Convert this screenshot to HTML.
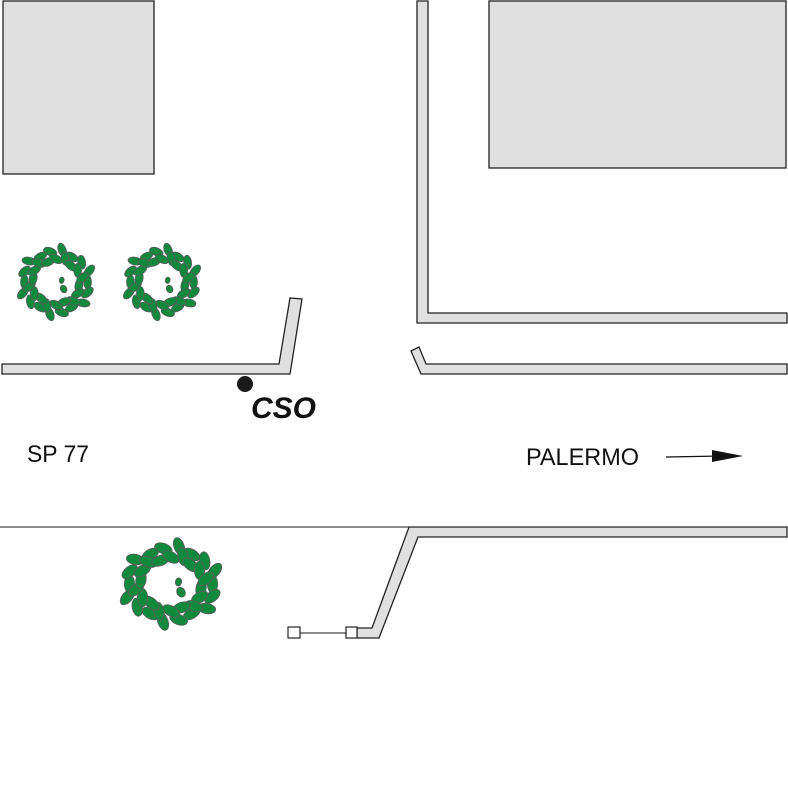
<!DOCTYPE html>
<html><head><meta charset="utf-8"><style>
html,body{margin:0;padding:0;background:#fff;width:788px;height:788px;overflow:hidden}
svg{display:block}
text{font-family:"Liberation Sans",sans-serif}
</style></head><body>
<svg id="s" width="788" height="788" viewBox="0 0 788 788">
<g fill="#e0e0e0" stroke="#222" stroke-width="1.3">
<rect x="3" y="1" width="151" height="173"/>
<rect x="489" y="1" width="297" height="167"/>
<polygon points="2,364 279,364 290,298 302,299 290,374 2,374"/>
<polygon points="417,1 428,1 428,313 787,313 787,323 417,323"/>
<polygon points="411,351 419,347 426,364 787,364 787,374 421,374"/>
<polygon points="409,527 787,527 787,537 418,537 379,638 357,638 357,628 372,628"/>
</g>
<line x1="0" y1="527" x2="409" y2="527" stroke="#444" stroke-width="1.3"/>
<line x1="300" y1="633" x2="346" y2="633" stroke="#444" stroke-width="1.3"/>
<rect x="288" y="627" width="12" height="11" fill="#fff" stroke="#222" stroke-width="1.2"/>
<rect x="346" y="627" width="11" height="11" fill="#fff" stroke="#222" stroke-width="1.2"/>
<circle cx="245" cy="384" r="8" fill="#1a1a1a"/>
<text x="251" y="418" font-size="30" font-weight="bold" font-style="italic" fill="#111">CSO</text>
<text x="27" y="462" font-size="24" fill="#111" textLength="62" lengthAdjust="spacingAndGlyphs">SP 77</text>
<text x="526" y="465" font-size="24" fill="#111" textLength="113" lengthAdjust="spacingAndGlyphs">PALERMO</text>
<line x1="666" y1="457" x2="722" y2="456" stroke="#111" stroke-width="1.3"/>
<polygon points="743,456 712,450 712,462" fill="#111"/>
<g id="trees"></g>
</svg>
<script>
var g=document.getElementById('trees'),ns='http://www.w3.org/2000/svg';
function leaf(x,y,l,w,ang){
 var e=document.createElementNS(ns,'ellipse');
 e.setAttribute('cx',x);e.setAttribute('cy',y);
 e.setAttribute('rx',l);e.setAttribute('ry',w);
 e.setAttribute('transform','rotate('+ang+' '+x+' '+y+')');
 e.setAttribute('fill','#0f8a3c');e.setAttribute('stroke','#4f6158');e.setAttribute('stroke-width','1');
 g.appendChild(e);
}
function tree(cx,cy,rx,ry){
 var n=18;
 for(var ring=0;ring<2;ring++){
  for(var i=0;i<n;i++){
   var a=i/n*Math.PI*2+ring*0.17;
   var f=ring?0.66:0.88;
   f+= (i%3-1)*0.05;
   var x=cx+Math.cos(a)*rx*f,y=cy+Math.sin(a)*ry*f;
   leaf(x,y,rx*0.18,rx*0.1,a*180/Math.PI+90+(i%3)*30);
  }
 }
 leaf(cx+rx*0.2,cy+ry*0.2,rx*0.1,rx*0.08,60);
 leaf(cx+rx*0.15,cy-ry*0.05,rx*0.08,rx*0.06,100);
}
tree(56,282,38,35);tree(162,282,38,35);tree(171,584,50,41);
</script>
</body></html>
